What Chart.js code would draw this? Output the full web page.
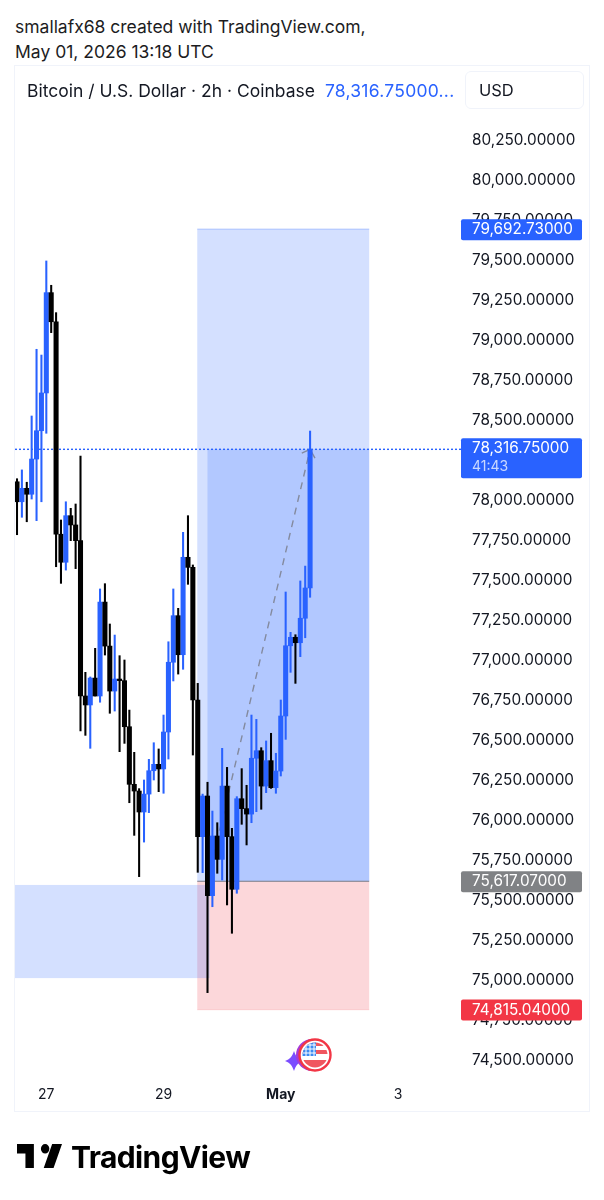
<!DOCTYPE html>
<html>
<head>
<meta charset="utf-8">
<style>
  html, body { margin: 0; padding: 0; background: #fff; }
  body { width: 604px; height: 1200px; position: relative; overflow: hidden; font-family: Inter, sans-serif; color: #131722; }
  canvas { position: absolute; left: 0; top: 0; }
  .abs { position: absolute; white-space: nowrap; }
  #credit { left: 15px; top: 14px; font-size: 17.5px; line-height: 25px; color: #1c1c1e; }
  #frame { left: 14px; top: 65px; width: 574px; height: 1045px; border: 1px solid #f0f3fa; }
  #title { left: 27px; top: 80px; font-size: 17.5px; line-height: 22px; color: #131722; }
  #title span { color: #2962ff; margin-left: 5px; letter-spacing: 0.25px; }
  #usd { left: 465px; top: 71px; width: 117px; height: 36px; border: 1px solid #f0f3fa; border-radius: 6px; font-size: 16.5px; line-height: 36px; text-indent: 13px; }
  #brand { left: 71px; top: 1137px; font-size: 30px; line-height: 40px; font-weight: 700; color: #000; letter-spacing: -0.6px; }
  #logo { left: 17px; top: 1144px; }
  #flag { left: 285px; top: 1036px; }
</style>
</head>
<body>
<div class="abs" id="credit">smallafx68 created with TradingView.com,<br>May 01, 2026 13:18 UTC</div>
<div class="abs" id="frame"></div>
<canvas id="chart" width="604" height="1200"></canvas>
<div class="abs" id="title">Bitcoin / U.S. Dollar · 2h · Coinbase <span>78,316.75000...</span></div>
<div class="abs" id="usd">USD</div>
<svg class="abs" id="flag" width="48" height="38" viewBox="0 0 48 38">
  <defs><clipPath id="disc"><circle cx="30" cy="19" r="12.5"/></clipPath></defs>
  <path d="M9 9 C11 15 13 17 18 19 C13 21 11 23 9 29 C7 23 5 21 0 19 C5 17 7 15 9 9 Z" fill="#7b4dff" transform="translate(0 6)"/>
  <circle cx="27" cy="19" r="16" fill="#a63ad6"/>
  <circle cx="30" cy="19" r="15.5" fill="#fff" stroke="#f23645" stroke-width="2.4"/>
  <g clip-path="url(#disc)">
    <path d="M17 6 H43 V10 H17 Z M17 14 H43 V18 H17 Z M17 24 H43 V32 H17 Z" fill="#f0565f"/>
    <path d="M17 6 H31 V20 H17 Z" fill="#3d8bf2"/>
    <path d="M17 9 H31 M17 13 H31 M17 17 H31 M21 6 V20 M25 6 V20 M29 6 V20" stroke="#fff" stroke-width="1"/>
  </g>
</svg>
<svg class="abs" id="logo" width="45" height="24" viewBox="2 6 32 15" preserveAspectRatio="none"><path fill="#000" d="M14 6H2v6h6v9h6V6zm14 15h-7l6-15h7l-6 15zm-6-9a3 3 0 1 0 0-6 3 3 0 0 0 0 6z"/></svg>
<div class="abs" id="brand">TradingView</div>

<script src="https://cdn.jsdelivr.net/npm/chart.js@4/dist/chart.umd.min.js"></script>
<script>
// 2h candles
const opens = [78114,77989,78073,78036,78256,78433,78669,79296,79114,77786,77611,77902,77844,77746,76775,76719,76887,76775,77362,77087,76806,76881,76871,76583,76223,76181,76050,76162,76308,76348,76319,76550,76986,77277,77033,77642,77579,76750,75896,76150,75527,75900,75754,76212,75896,75567,76133,76071,76037,76386,76433,76212,76371,76202,76306,76650,77089,77142,77108,77261,77450];
const closes = [77989,78073,78036,78256,78433,78669,79296,79114,77786,77611,77902,77844,77746,76775,76719,76887,76775,77362,77087,76806,76881,76871,76583,76223,76181,76050,76162,76308,76348,76319,76550,76986,77277,77033,77642,77579,76750,75896,76150,75527,75900,75754,76212,75896,75567,76133,76071,76037,76386,76433,76212,76371,76202,76306,76650,77089,77142,77108,77261,77450,78316.75];
const highs = [78133,78188,78111,78525,78942,78906,79494,79342,79171,77875,77989,77948,77975,78275,76923,76894,77073,77444,77477,77225,77156,77027,77000,76687,76423,76196,76250,76379,76483,76444,76656,77114,77444,77323,77798,77902,77594,76854,76162,76236,76056,75983,76448,76329,75948,76146,76321,76217,76656,76629,76452,76494,76542,76417,76750,77425,77173,77158,77494,77587,78431];
const lows = [77783,77892,77864,78006,77871,77989,78417,79046,77583,77479,77562,77746,77571,76556,76529,76448,76775,76736,77031,76667,76681,76427,76479,76108,75904,75646,75862,76046,76250,76177,76167,76381,76869,76912,76942,77473,76406,75673,75671,74921,75458,75667,75625,75469,75292,75542,75973,75844,75983,76052,76067,76171,76198,76167,76275,76504,76923,76854,77021,77139,77392];

const priceTicks = [80250,80000,79750,79500,79250,79000,78750,78500,78250,78000,77750,77500,77250,77000,76750,76500,76250,76000,75750,75500,75250,75000,74750,74500];
const dayTickIndex = [6, 30, 54, 78];
const dayTickLabels = ['27', '29', 'May', '3'];

// long position tool, and the zone to its left
const targetPrice = 79692.73;
const lastPrice = 78316.75;
const entryPrice = 75617.07;
const stopPrice = 74815.04;
const countdown = '41:43';
const toolBars = [36.9, 39, 72.1];
const zoneBars = [-0.41, 39.4];
const zonePrices = [75594, 75012];

const UP = '#2962ff';
const DOWN = '#000000';
const candleColors = closes.map((c, i) => (c >= opens[i] ? UP : DOWN));
const xMin = -0.41;
const xMax = 91.1;

const money = v => v.toLocaleString('en-US', { minimumFractionDigits: 5, maximumFractionDigits: 5 });

const toolPlugin = {
  id: 'positionTool',
  beforeDatasetsDraw(chart) {
    const { ctx, scales: { x, y } } = chart;
    const box = (x0, x1, p0, p1, color) => {
      ctx.fillStyle = color;
      ctx.fillRect(x.getPixelForValue(x0), y.getPixelForValue(p0), x.getPixelForValue(x1) - x.getPixelForValue(x0), y.getPixelForValue(p1) - y.getPixelForValue(p0));
    };
    ctx.save();
    box(toolBars[0], toolBars[2], targetPrice, entryPrice, 'rgba(41,98,255,0.2)');
    box(toolBars[1], toolBars[2], lastPrice, entryPrice, 'rgba(41,98,255,0.2)');
    box(toolBars[0], toolBars[2], entryPrice, stopPrice, 'rgba(242,54,69,0.2)');
    box(zoneBars[0], zoneBars[1], zonePrices[0], zonePrices[1], 'rgba(41,98,255,0.2)');
    // edges of the tool
    ctx.lineWidth = 1.2;
    [[targetPrice, 'rgba(41,98,255,0.25)'], [entryPrice, '#787b86'], [stopPrice, 'rgba(242,54,69,0.15)']].forEach(([p, c]) => {
      ctx.strokeStyle = c;
      ctx.beginPath();
      ctx.moveTo(x.getPixelForValue(toolBars[0]), y.getPixelForValue(p));
      ctx.lineTo(x.getPixelForValue(toolBars[2]), y.getPixelForValue(p));
      ctx.stroke();
    });
    ctx.restore();
  },
  afterDraw(chart) {
    const { ctx, scales: { y } } = chart;
    const tag = (price, color, second) => {
      const cy = y.getPixelForValue(price);
      const h = second ? 40 : 21;
      const top = second ? cy - 11 : cy - 10;
      ctx.fillStyle = color;
      ctx.beginPath();
      ctx.roundRect(461, top, 121, h, 2);
      ctx.fill();
      ctx.fillStyle = '#fff';
      ctx.font = '15.3px Inter';
      ctx.textAlign = 'left';
      ctx.textBaseline = 'middle';
      ctx.fillText(money(price), 472, top + 10.5);
      if (second) {
        ctx.font = '14px Inter';
        ctx.fillStyle = 'rgba(255,255,255,0.75)';
        ctx.fillText(second, 472, top + 28.5);
      }
    };
    ctx.save();
    tag(targetPrice, UP);
    tag(lastPrice, UP, countdown);
    tag(entryPrice, '#808285');
    tag(stopPrice, '#f23645');
    ctx.restore();
  }
};

new Chart(document.getElementById('chart'), {
  type: 'bar',
  data: {
    datasets: [
      {
        data: opens.map((o, i) => ({ x: i, y: [o, closes[i]] })),
        backgroundColor: candleColors,
        barThickness: 4.4,
        grouped: false,
        order: 1
      },
      {
        data: lows.map((l, i) => ({ x: i, y: [l, highs[i]] })),
        backgroundColor: candleColors,
        barThickness: 1.4,
        grouped: false,
        order: 2
      },
      {
        type: 'line',
        data: [{ x: 39, y: entryPrice }, { x: 60, y: lastPrice }],
        borderColor: 'rgba(120,123,134,0.8)',
        borderWidth: 1.4,
        borderDash: [7, 6],
        pointRadius: 0,
        order: 3
      },
      {
        type: 'line',
        data: [{ x: 58.3, y: 78293 }, { x: 60, y: lastPrice }, { x: 61, y: 78262 }],
        borderColor: 'rgba(120,123,134,0.8)',
        borderWidth: 1.4,
        pointRadius: 0,
        order: 3
      },
      {
        type: 'line',
        data: [{ x: xMin, y: lastPrice }, { x: xMax, y: lastPrice }],
        borderColor: UP,
        borderWidth: 1.4,
        borderDash: [2, 2],
        pointRadius: 0,
        order: 4
      }
    ]
  },
  plugins: [toolPlugin],
  options: {
    responsive: false,
    animation: false,
    layout: { padding: { left: 15, top: 66, right: 0, bottom: 0 } },
    plugins: { legend: { display: false }, tooltip: { enabled: false } },
    scales: {
      x: {
        type: 'linear',
        offset: false,
        min: xMin,
        max: xMax,
        grid: { display: false },
        border: { display: false },
        afterBuildTicks(scale) { scale.ticks = dayTickIndex.map(v => ({ value: v })); },
        afterFit(scale) { scale.height = 122; },
        ticks: {
          autoSkip: false,
          maxRotation: 0,
          padding: 0,
          color: '#131722',
          font: ctx => ({ family: 'Inter', size: 14, weight: ctx.tick && dayTickLabels[dayTickIndex.indexOf(ctx.tick.value)] === 'May' ? '700' : '400' }),
          callback: v => dayTickLabels[dayTickIndex.indexOf(v)]
        }
      },
      y: {
        position: 'right',
        min: 74387.5,
        max: 80712.5,
        grid: { display: false },
        border: { display: false },
        afterBuildTicks(scale) { scale.ticks = priceTicks.map(v => ({ value: v })); },
        afterFit(scale) { scale.width = 142; },
        ticks: {
          autoSkip: false,
          padding: 2,
          color: '#131722',
          font: { family: 'Inter', size: 15.3 },
          callback: v => money(v)
        }
      }
    }
  }
});
</script>
</body>
</html>
